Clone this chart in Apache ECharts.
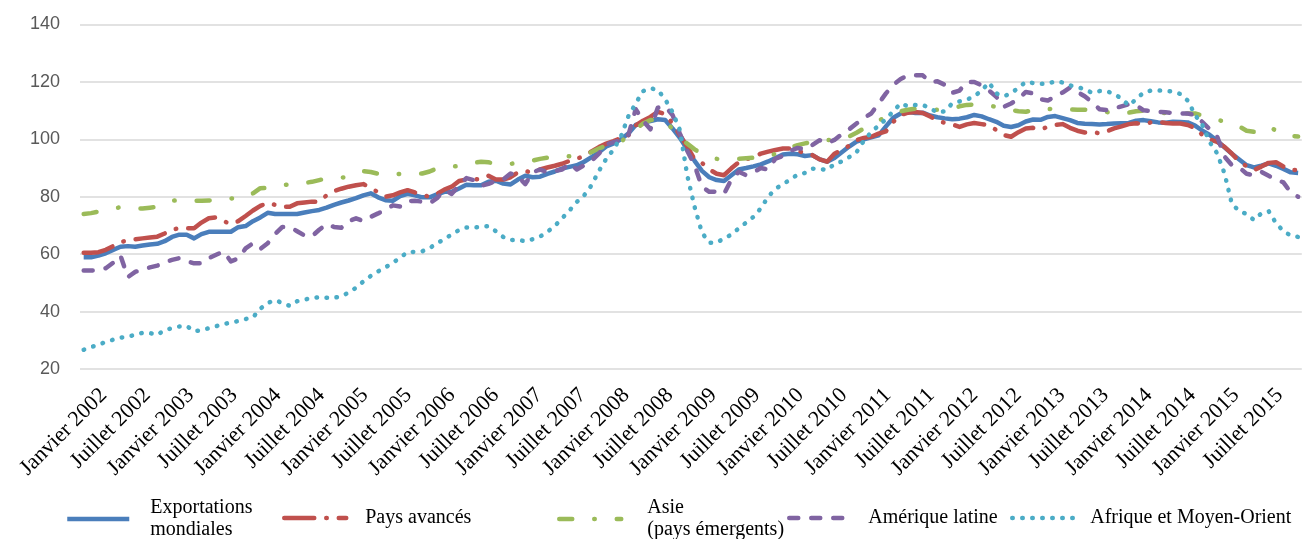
<!DOCTYPE html>
<html>
<head>
<meta charset="utf-8">
<script src="https://cdn.jsdelivr.net/npm/echarts@6/dist/echarts.min.js"></script>
<style>
  html, body { margin: 0; padding: 0; background: #fff; }
  #chart { width: 1305px; height: 539px; }
</style>
</head>
<body>
<div id="chart"></div>
<script>
// mois : janvier 2002 -> octobre 2015
const moisNoms = ['Janvier', 'Février', 'Mars', 'Avril', 'Mai', 'Juin', 'Juillet', 'Août', 'Septembre', 'Octobre', 'Novembre', 'Décembre']
const mois = []
for (let a = 2002; a <= 2015; a++) {
    moisNoms.forEach((m, k) => {
        if (a < 2015 || k < 10) mois.push(m + ' ' + a)
    })
}

const yTicks = [20, 40, 60, 80, 100, 120, 140]

const monde = [
    58.9, 58.9, 59.5, 60.3, 61.5, 62.6, 62.8, 62.6, 63.0, 63.4,
    63.6, 64.5, 66.0, 66.8, 66.8, 65.5, 67.0, 67.8, 67.8, 67.8,
    67.8, 69.4, 69.8, 71.5, 72.8, 74.4, 74.0, 74.0, 74.0, 74.0,
    74.5, 75.0, 75.4, 76.2, 77.2, 78.0, 78.7, 79.5, 80.5, 81.2,
    79.8, 78.8, 78.6, 80.2, 81.0, 80.5, 79.8, 79.8, 80.8, 81.7,
    81.7, 82.9, 84.2, 84.0, 84.0, 85.2, 85.6, 84.6, 84.3, 86.0,
    87.3, 86.8, 87.0, 88.0, 88.8, 89.8, 90.4, 91.0, 92.2, 93.8,
    95.5, 97.5, 98.6, 100.0, 102.0, 105.0, 105.8, 106.4, 107.0, 106.7,
    103.8, 100.5, 96.5, 92.5, 89.0, 86.8, 85.8, 85.5, 87.5, 89.5,
    90.0, 90.6, 91.3, 92.3, 93.5, 94.7, 95.0, 94.8, 94.2, 94.5,
    93.0, 92.2, 93.5, 95.5, 97.5, 99.2, 100.0, 100.7, 101.4,
    104.5, 107.5, 109.0, 109.6, 109.2, 109.3, 108.3, 107.7, 107.3, 107.0,
    107.2, 107.7, 108.5, 108.0, 107.0, 106.1, 104.7, 104.3, 104.9, 106.2,
    106.9, 106.8, 107.8, 108.1, 107.4, 106.7, 105.7, 105.4, 105.3, 105.2,
    105.3, 105.5, 105.6, 105.7, 106.5, 106.7, 106.3, 105.9, 105.8, 106.1,
    106.0, 105.9, 104.8, 103.0, 101.5, 99.5, 97.2, 95.0, 93.0, 91.0,
    90.2, 90.8, 91.6, 90.8, 89.7, 88.5, 88.3
]

const avances = [
    60.5, 60.5, 60.7, 61.5, 62.8, 64.2, 64.8, 65.2, 65.5, 65.8,
    66.1, 67.2, 68.6, 69.0, 69.0, 69.0, 71.0, 72.5, 72.8, 71.5,
    70.5, 71.5, 73.3, 75.2, 76.8, 77.9, 77.2, 76.5, 76.5, 77.7,
    78.0, 78.3, 78.3, 80.5, 82.0, 82.8, 83.5, 84.0, 84.4, 83.2,
    81.5, 80.0, 80.5, 81.5, 82.3, 81.5, 80.6, 80.0, 81.0, 82.5,
    83.5, 85.5, 86.0, 86.0, 86.2, 87.3, 86.0, 86.0, 86.8, 88.5,
    89.0, 88.3, 89.5, 90.2, 90.8, 91.5, 92.5, 93.3, 94.1, 95.8,
    97.3, 98.5, 99.4, 100.5, 101.4, 104.8, 106.5, 107.8, 109.6, 108.8,
    105.5, 101.5, 97.5, 93.0, 91.8, 89.5, 88.0, 87.5, 89.9, 92.0,
    93.0, 93.9, 95.0, 95.7, 96.3, 96.8, 96.8, 96.0, 95.2, 94.5,
    93.0, 92.2, 95.0, 96.2, 97.8, 99.7, 100.5, 100.9, 102.0,
    102.8, 106.1, 108.5, 109.3, 109.5, 109.2, 108.0, 106.3, 105.8, 105.2,
    104.3, 105.2, 105.7, 105.3, 104.9, 103.2, 101.5, 100.9, 102.5, 103.8,
    104.0, 103.4, 104.4, 105.0, 105.3, 104.0, 103.0, 102.4, 102.6, 102.1,
    102.8, 103.8, 104.5, 105.3, 105.6, 105.4, 105.9, 106.0, 105.7, 105.5,
    105.5, 105.0, 104.0, 101.5, 100.0, 99.1, 97.4, 95.0, 92.3, 90.6,
    89.3, 90.5, 91.8, 92.0, 90.5, 89.3, 89.3
]

const asie = [
    74.0, 74.3, 74.8, 75.5, 76.0, 76.3, 76.0, 75.9, 75.9, 76.2,
    76.5, 77.5, 78.6, 78.8, 78.6, 78.6, 78.6, 78.7, 78.8, 79.2,
    79.4, 79.5, 79.8, 81.2, 83.0, 83.1, 83.3, 84.0, 84.3, 84.4,
    84.8, 85.2, 85.8, 86.4, 86.6, 86.7, 86.8, 88.0, 88.9, 88.6,
    88.0, 87.5, 87.7, 88.0, 88.2, 88.0, 88.1, 88.8, 89.9, 90.3,
    90.5, 90.7, 91.2, 91.8, 92.2, 92.0, 91.5, 91.2, 91.5, 91.7,
    92.0, 92.6, 93.2, 93.6, 94.0, 94.1, 94.1, 94.1, 94.5, 95.6,
    96.8, 97.8, 98.6, 99.1, 101.5, 103.5, 105.5, 106.7, 107.0, 106.7,
    103.5, 100.5, 98.5, 96.5, 95.0, 93.9, 93.2, 93.1, 93.1, 93.2,
    93.4, 93.6, 93.8, 94.0, 95.0, 96.5, 97.2, 98.0, 98.6, 99.1,
    99.9, 99.8, 99.7, 99.7, 101.0, 102.3, 103.8, 105.3, 106.5,
    107.8, 109.0, 109.8, 110.3, 110.7, 110.7, 110.2, 110.3, 110.4, 110.8,
    111.5, 112.0, 112.1, 112.0, 111.9, 111.2, 110.6, 110.2, 109.8, 109.6,
    110.2, 110.8, 110.6, 110.5, 110.5, 110.4, 110.3, 110.3, 110.0, 109.8,
    109.5, 109.2, 108.8, 109.3, 109.8, 110.0, 109.6, 109.2, 109.2, 109.2,
    109.1, 109.0, 109.0, 108.3, 107.5, 106.8, 106.2, 105.8, 104.5, 103.0,
    102.6, 103.5, 104.6, 103.0, 101.5, 101.2, 101.0
]

const latine = [
    54.3, 54.3, 54.5, 55.1, 57.0, 59.5, 52.0, 53.8, 54.7, 55.4,
    56.0, 57.2, 58.0, 58.6, 57.6, 56.8, 56.8, 58.6, 59.8, 60.9,
    57.5, 58.5, 62.0, 63.8, 61.8, 63.8, 67.0, 69.5, 69.5, 68.0,
    66.5, 66.2, 68.5, 70.5, 69.5, 69.2, 71.5, 72.5, 71.5, 73.0,
    74.2, 75.5, 77.0, 76.6, 78.5, 78.6, 78.3, 77.7, 79.5, 82.3,
    81.0, 84.0, 86.5, 85.8, 83.8, 84.5, 85.5, 86.0, 88.1, 87.0,
    84.4, 88.5, 89.5, 88.5, 89.0, 89.5, 91.6, 89.5, 91.0, 92.5,
    95.0, 98.3, 99.0, 99.7, 101.4, 110.5, 106.5, 103.5, 111.0, 111.5,
    108.5, 102.0, 96.0, 91.0, 83.5, 81.7, 81.8, 81.0, 86.0, 88.7,
    87.5, 88.5, 90.0, 89.5, 93.3, 94.2, 96.0, 97.0, 96.5, 98.0,
    99.7, 98.6, 99.8, 101.8, 103.5, 105.5, 107.5, 109.0, 112.5,
    116.0, 119.0, 121.0, 122.3, 122.3, 122.3, 120.0, 120.2, 119.0, 116.2,
    117.0, 120.0, 120.0, 118.8, 117.0, 114.8, 111.3, 112.5, 114.0, 116.5,
    116.0, 114.0, 113.5, 115.0, 116.3, 118.0, 116.5, 115.0, 113.0, 110.5,
    110.2, 110.8, 111.5, 112.2, 111.9, 110.1, 109.8, 109.6, 109.4, 109.2,
    109.0, 109.0, 108.5, 106.0, 103.5, 101.0, 94.0, 91.0, 90.2, 88.0,
    87.5, 88.7, 87.3, 86.0, 85.0, 81.5, 80.0
]

const afrique = [
    26.7, 27.6, 28.5, 29.4, 30.2, 30.9, 31.3, 31.9, 32.6, 32.5,
    31.9, 33.6, 34.2, 34.8, 35.0, 33.2, 33.5, 34.2, 34.9, 35.6,
    36.2, 36.7, 37.4, 38.0, 41.0, 43.0, 44.0, 43.0, 42.0, 43.6,
    44.2, 44.7, 45.0, 44.8, 44.8, 45.3, 46.6, 48.3, 50.5, 52.4,
    54.0, 55.4, 57.0, 58.8, 60.7, 60.8, 61.0, 62.1, 63.8, 65.2,
    66.9, 68.4, 69.3, 69.3, 69.5, 69.8, 68.0, 66.0, 64.9, 65.0,
    64.5, 65.2, 66.1, 67.8, 69.8, 72.5, 75.2, 78.2, 80.5, 84.0,
    89.0, 93.2, 96.5, 101.0, 108.0, 112.5, 116.8, 117.8, 117.2, 114.0,
    109.5, 103.2, 87.5, 76.5, 67.5, 64.0, 64.0, 65.5, 66.8, 69.0,
    71.0, 73.0, 76.0, 80.0, 82.8, 84.3, 86.0, 87.7, 88.3, 89.8,
    89.7, 89.3, 91.4, 92.3, 93.8, 95.5, 99.5, 102.5, 104.8,
    107.0, 109.8, 112.5, 111.5, 112.0, 112.0, 110.8, 109.3, 109.8, 112.5,
    113.2, 113.8, 115.0, 117.0, 119.8, 116.0, 115.0, 116.0, 118.0, 120.0,
    119.6, 119.3, 119.4, 120.2, 119.8, 118.8, 118.2, 117.5, 116.2, 116.8,
    116.8, 115.8, 114.2, 111.8, 114.0, 116.3, 117.0, 117.0, 116.9, 116.6,
    115.8, 113.5, 108.5, 104.9, 99.0, 95.1, 88.1, 77.5, 75.0, 74.0,
    71.9, 74.2, 75.0, 70.8, 68.0, 66.5, 66.0
]

const noms = ['Exportations mondiales', 'Pays avancés', 'Asie (pays émergents)', 'Amérique latine', 'Afrique et Moyen-Orient']
const couleurs = ['#4A7EBB', '#C0504D', '#9BBB59', '#8064A2', '#4BACC6']
const tirets = ['solid', [30, 12, 0.5, 12], [13, 22, 0.5, 22], [9, 13], [0.5, 9.5]]
const series = [monde, avances, asie, latine, afrique]

// position des légendes (début du trait, décalage du texte)
const legendePos = [[65, 16], [282, 14], [557, 21], [787, 12], [1010, 11]]

const serif = 'Liberation Serif, Times New Roman, serif'
const plotW = 1221.8

const chart = echarts.init(document.querySelector('#chart'))
const option = {
    animation: false,
    grid: [
        { left: 80, top: 24.5, width: plotW, height: 344.5 },
        // grille fantôme pour placer les étiquettes décalées comme dans Excel
        { left: 100, top: 24.5, width: plotW, height: 344.5 }
    ],
    xAxis: [
        {
            gridIndex: 0,
            type: 'category',
            data: mois,
            boundaryGap: true,
            axisLine: { show: false },
            axisTick: { show: false },
            axisLabel: { show: false }
        },
        {
            gridIndex: 1,
            type: 'category',
            data: mois,
            boundaryGap: true,
            axisLine: { show: false },
            axisTick: { show: false },
            axisLabel: {
                interval: 5,
                rotate: 45,
                margin: 23,
                fontFamily: serif,
                fontSize: 22,
                color: '#000'
            }
        }
    ],
    yAxis: [
        {
            gridIndex: 0,
            type: 'value',
            min: yTicks[0],
            max: yTicks[yTicks.length - 1],
            interval: 20,
            axisLine: { show: false },
            axisTick: { show: false },
            axisLabel: {
                margin: 20,
                fontFamily: 'Liberation Sans, Arial, sans-serif',
                fontSize: 18,
                color: '#595959'
            },
            splitLine: { lineStyle: { color: '#d9d9d9', width: 1.5 } }
        },
        { gridIndex: 1, type: 'value', show: false }
    ],
    legend: noms.map((nom, i) => ({
        data: [nom],
        left: legendePos[i][0],
        top: i === 0 || i === 2 ? 497 : 507,
        itemWidth: 62,
        itemHeight: 14,
        padding: 0,
        selectedMode: false,
        itemStyle: { opacity: 0 },
        lineStyle: { width: 4.5 },
        formatter: n => n.replace('Exportations ', 'Exportations\n').replace('Asie ', 'Asie\n'),
        textStyle: {
            fontFamily: serif,
            fontSize: 20,
            lineHeight: 22,
            color: '#000',
            padding: [0, 0, 0, legendePos[i][1]]
        }
    })),
    series: series.map((d, i) => ({
        name: noms[i],
        type: 'line',
        xAxisIndex: 0,
        yAxisIndex: 0,
        data: d,
        symbol: 'none',
        silent: true,
        lineStyle: {
            color: couleurs[i],
            width: 4.5,
            type: tirets[i],
            cap: i === 0 ? 'butt' : 'round',
            join: 'round'
        },
        itemStyle: { color: couleurs[i] },
        emphasis: { disabled: true }
    }))
}
chart.setOption(option)
</script>
</body>
</html>
